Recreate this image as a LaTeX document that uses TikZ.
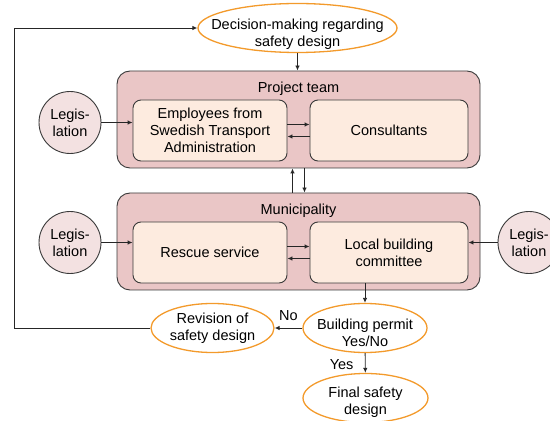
\documentclass[tikz,border=0pt]{standalone}
\usepackage{fontspec}
\setmainfont{Liberation Sans}
\usepackage{xcolor}
\usepackage{tikz}
\usetikzlibrary{shapes.geometric, arrows.meta, positioning, calc}
\definecolor{decisionorange}{HTML}{F39A2B}
\definecolor{groupred}{HTML}{EAC6C6}
\definecolor{unitpeach}{HTML}{FDEBDF}
\definecolor{lawpink}{HTML}{F3E1E1}
\definecolor{edgegray}{HTML}{3A3A3A}

\begin{document}
\begin{tikzpicture}[x=1pt, y=1pt, font={\fontsize{14.5}{17}\selectfont},
    decision/.style={ellipse, draw=decisionorange, line width=1.3pt, fill=white,
        inner xsep=-17pt, inner ysep=-6pt, minimum height=49pt, align=center},
    group/.style={rectangle, rounded corners=13pt, draw=edgegray, line width=0.9pt,
        fill=groupred, minimum width=363pt, minimum height=97pt},
    unit/.style={rectangle, rounded corners=8pt, draw=edgegray, line width=0.9pt,
        fill=unitpeach, minimum height=61pt, inner sep=0pt, align=center},
    law/.style={circle, draw=edgegray, line width=0.9pt, fill=lawpink,
        minimum size=62pt, inner sep=0pt, align=center},
    flow/.style={-{Latex[length=5pt,width=4.5pt]}, line width=0.9pt, draw=black!85}]

    \useasboundingbox (0,0) rectangle (550,421);

    % Decision at the top
    \node[decision, text height=40pt, minimum width=199pt] (dec) at (297.5,393) {Decision-making regarding\\safety design};

    % Project team
    \node[group] (proj) at (298.5,301.5) {};
    \node[anchor=base] (projtitle) at (298.5,328) {Project team};
    \node[unit, minimum width=154pt] (emp) at (210,290.5) {Employees from\\Swedish Transport\\Administration};
    \node[unit, minimum width=158pt] (cons) at (389,290.5) {Consultants};

    % Municipality
    \node[group] (muni) at (298.5,179.5) {};
    \node[anchor=base] (munititle) at (298.5,206) {Municipality};
    \node[unit, minimum width=154pt] (rescue) at (210,168.5) {Rescue service};
    \node[unit, minimum width=158pt] (lbc) at (389,168.5) {Local building\\committee};

    % Legislation
    \node[law] (law1) at (70,298.5) {Legis-\\lation};
    \node[law] (law2) at (70,178.5) {Legis-\\lation};
    \node[law] (law3) at (529,178.5) {Legis-\\lation};

    % Permit and outcomes
    \node[decision, text height=38pt, minimum width=124pt] (permit) at (365,93) {Building permit\\Yes/No};
    \node[decision, minimum width=123pt] (revision) at (212.5,93) {Revision of\\safety design};
    \node[decision, text height=36pt, minimum width=125pt] (final) at (365.5,23) {Final safety\\design};
    \coordinate (loop) at (14,93);

    % Connectors
    \draw[flow] (dec) -- (dec |- proj.north);
    \draw[flow] (law1) -- (emp.west |- law1);
    \draw[flow] (law2) -- (rescue.west |- law2);
    \draw[flow] (law3) -- (lbc.east |- law3);

    \draw[flow] ([yshift=6pt]emp.east) -- ([yshift=6pt]cons.west);
    \draw[flow] ([yshift=-6pt]cons.west) -- ([yshift=-6pt]emp.east);
    \draw[flow] ([yshift=6pt]rescue.east) -- ([yshift=6pt]lbc.west);
    \draw[flow] ([yshift=-6pt]lbc.west) -- ([yshift=-6pt]rescue.east);

    \draw[flow] ([xshift=-6pt]muni.north) -- ([xshift=-6pt]proj.south);
    \draw[flow] ([xshift=6pt]proj.south) -- ([xshift=6pt]muni.north);

    \draw[flow] (permit.north |- lbc.south) -- (permit);
    \draw[flow] (permit) -- node[above=4pt] (nolabel) {No} (revision);
    \draw[flow] (permit) -- node[left=8pt, pos=0.6] (yeslabel) {Yes} (final);
    \draw[flow] (revision) -- (loop) |- (dec);

\end{tikzpicture}
\end{document}
